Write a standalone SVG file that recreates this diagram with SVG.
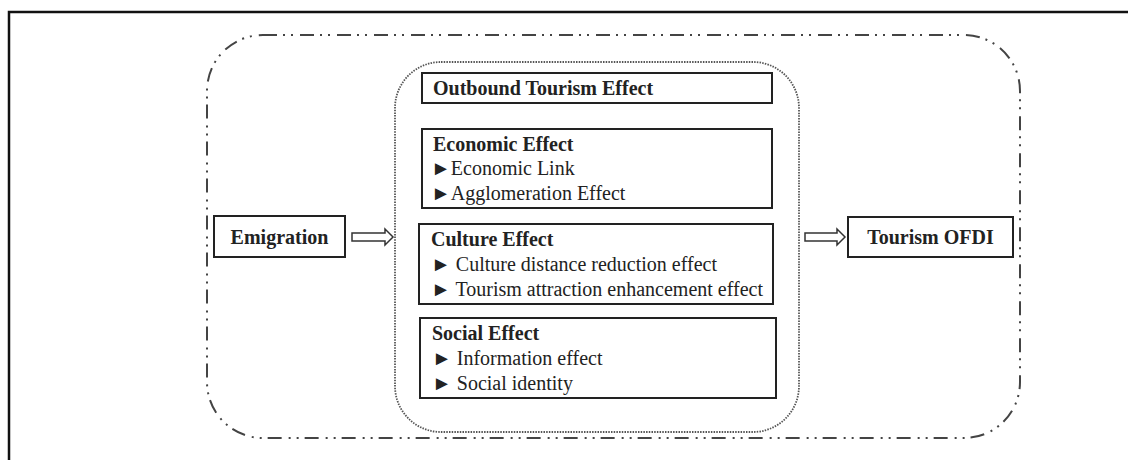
<svg xmlns="http://www.w3.org/2000/svg" width="1128" height="460" viewBox="0 0 1128 460">
<style>
.box{fill:#fff;stroke:#222;stroke-width:2}
.t{font-family:"Liberation Serif","Times New Roman",serif;font-size:20px;fill:#222}
.b{font-weight:bold}
.arr{fill:#fff;stroke:#333;stroke-width:1.5;stroke-linejoin:miter}
</style>
<rect width="1128" height="460" fill="#fff"/>
<path d="M9 460 V12 H1128" fill="none" stroke="#111" stroke-width="2.5"/>
<g id="outer-frame">
<rect x="207" y="35" width="813" height="403" rx="56" ry="56" fill="none" stroke="#444" stroke-width="2" stroke-dasharray="14 6 2 6 2 7"/>
</g>
<g id="outbound-tourism-group">
<rect x="395" y="62" width="404" height="370" rx="46" ry="46" fill="none" stroke="#555" stroke-width="1.8" stroke-dasharray="1.5 1.2"/>
</g>
<g id="outbound-title">
<rect class="box" x="422" y="73" width="350" height="30"/>
<text class="t b" x="433" y="95">Outbound Tourism Effect</text>
</g>
<g id="economic-effect">
<rect class="box" x="422" y="129" width="350" height="79"/>
<text class="t b" x="433" y="151">Economic Effect</text>
<text class="t" x="431" y="175">►Economic Link</text>
<text class="t" x="431" y="200">►Agglomeration Effect</text>
</g>
<g id="culture-effect">
<rect class="box" x="419" y="224" width="354" height="80"/>
<text class="t b" x="431" y="246">Culture Effect</text>
<text class="t" x="431" y="271">► Culture distance reduction effect</text>
<text class="t" x="431" y="296">► Tourism attraction enhancement effect</text>
</g>
<g id="social-effect">
<rect class="box" x="420" y="318" width="356" height="80"/>
<text class="t b" x="432" y="340">Social Effect</text>
<text class="t" x="432" y="365">► Information effect</text>
<text class="t" x="432" y="390">► Social identity</text>
</g>
<g id="emigration">
<rect class="box" x="214" y="216" width="131" height="41"/>
<text class="t b" x="279.5" y="244" text-anchor="middle">Emigration</text>
</g>
<g id="tourism-ofdi">
<rect class="box" x="848" y="217" width="165" height="40"/>
<text class="t b" x="930.5" y="244" text-anchor="middle">Tourism OFDI</text>
</g>
<g id="connectors">
<path class="arr" d="M352 233 H385 V229 L393 237 L385 245 V241 H352 Z"/>
<path class="arr" d="M805 233 H837 V229 L845 237 L837 245 V241 H805 Z"/>
</g>
</svg>
